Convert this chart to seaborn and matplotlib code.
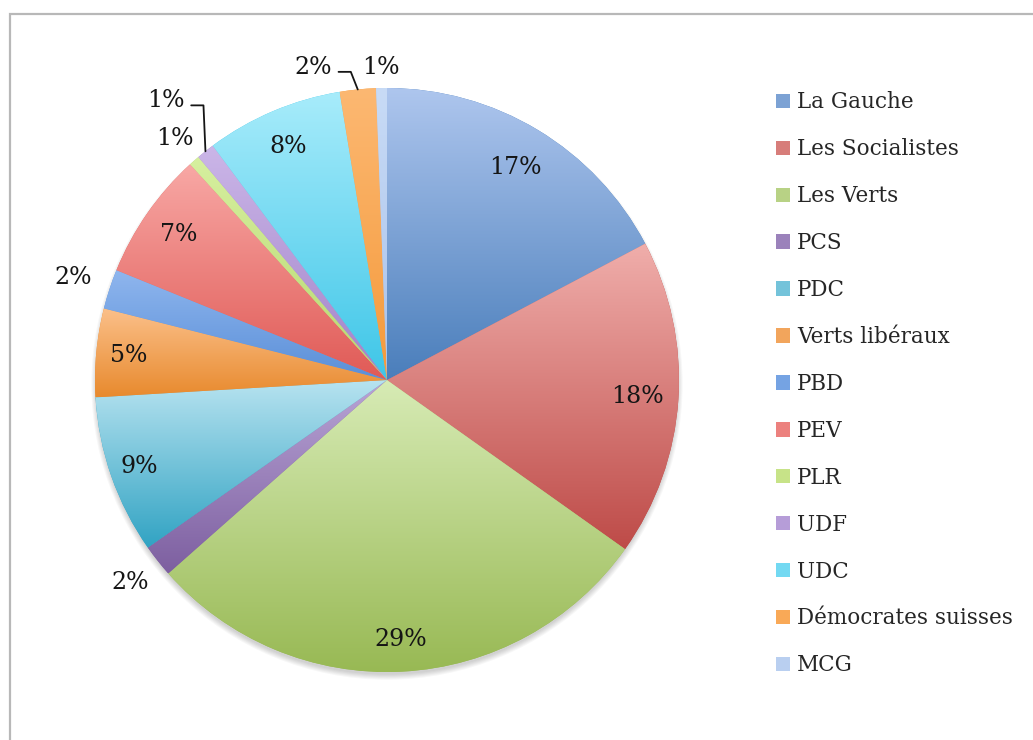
import numpy as np
import matplotlib
matplotlib.use("Agg")
import matplotlib.pyplot as plt
import seaborn as sns
from matplotlib.colors import LinearSegmentedColormap, to_rgb
from matplotlib.patches import Patch, Circle, Rectangle

sns.set_theme(style="white")
plt.rcParams["font.family"] = ["DejaVu Serif"]

# ---- data ----
parties = ["La Gauche", "Les Socialistes", "Les Verts", "PCS", "PDC", "Verts libéraux",
           "PBD", "PEV", "PLR", "UDF", "UDC", "Démocrates suisses", "MCG"]
shares = [17.3, 17.6, 28.7, 1.8, 8.8, 4.9, 2.2, 7.1, 0.6, 1.0, 7.6, 2.0, 0.6]
top_colors = ["#aec6ee", "#f0aeab", "#d7ebb5", "#b9a5d6", "#b7e3f0", "#fbc08a", "#8fb6ee",
              "#f8a8a5", "#d6ef9f", "#cbb6e8", "#a8ecfb", "#fcb872", "#c8dbf6"]
bottom_colors = ["#4a7ebb", "#be4b48", "#98b954", "#7d5fa0", "#31a3c3", "#e88a2e", "#5a8fd8",
                 "#e05a56", "#b8d870", "#a283c8", "#3ec6e8", "#f59a3b", "#a9c2ea"]

# label styling (radius factor, angle shift in degrees)
label_r = [0.85, 0.86, 0.89, 1.12, 0.90, 0.89, 1.13, 0.87, 1.10, 1.22, 0.87, 1.10, 1.07]
label_shift = [0, 0, 0, 0, 0, 0, 0, 0, 0, 0, 0, 7.6, 0]
leader = [False] * 9 + [True, False, True, False]

W, H = 1033, 740
R = 292.0
cx, cy = 387.0, 380.0

fig = plt.figure(figsize=(W / 100, H / 100), dpi=100)
fig.patch.set_facecolor("white")

# outer frame (partially visible)
fig.add_artist(Rectangle((10 / W, -0.1), 1.2, 1 - 14 / H + 0.1, transform=fig.transFigure,
                         fill=False, edgecolor="#b8b8b8", linewidth=1.6))

ax = fig.add_axes([(cx - 1.25 * R) / W, (H - cy - 1.2 * R) / H, 2.5 * R / W, 2.4 * R / H])
ax.set_facecolor("none")

# soft shadow
for i in range(6):
    ax.add_patch(Circle((0.0, -0.014), 0.995 + 0.0035 * i, facecolor="black",
                        alpha=0.03, linewidth=0, zorder=0))

wedges, _ = ax.pie(shares, colors=bottom_colors, startangle=90, counterclock=False,
                   radius=1, wedgeprops=dict(linewidth=0))

grad = np.linspace(0, 1, 256).reshape(-1, 1)
for w, c0, c1 in zip(wedges, top_colors, bottom_colors):
    ext = w.get_path().get_extents()
    cmap = LinearSegmentedColormap.from_list("g", [c1, c0])
    im = ax.imshow(grad, extent=[ext.x0, ext.x1, ext.y0, ext.y1], origin="lower",
                   cmap=cmap, aspect="auto", interpolation="bilinear", zorder=2)
    im.set_clip_path(w)

for w, v, rf, sh, ld in zip(wedges, shares, label_r, label_shift, leader):
    mid = np.deg2rad((w.theta1 + w.theta2) / 2)
    ang = mid + np.deg2rad(sh)
    tx, ty = rf * np.cos(ang), rf * np.sin(ang)
    ax.text(tx, ty, f"{round(v)}%", ha="center", va="center", fontsize=17,
            color="#151515", zorder=5)
    if ld:
        ex, ey = np.cos(mid), np.sin(mid)
        xs = [tx + 0.088, tx + 0.13, ex]
        ys = [ty - 0.015, ty - 0.015, ey]
        ax.plot(xs, ys, color="#151515", linewidth=1.3, zorder=5)

ax.set_xlim(-1.25, 1.25)
ax.set_ylim(-1.2, 1.2)
ax.set_aspect("auto")
ax.axis("off")

def mix(a, b):
    a, b = np.array(to_rgb(a)), np.array(to_rgb(b))
    return tuple(0.5 * a + 0.5 * b)

handles = [Patch(facecolor=mix(a, b), edgecolor="none") for a, b in zip(top_colors, bottom_colors)]
fig.legend(handles, parties, loc="upper left", bbox_to_anchor=(776 / W, 1 - 91.5 / H),
           frameon=False, fontsize=15.5, handlelength=0.66, handleheight=0.66,
           handletextpad=0.33, labelspacing=1.157, borderpad=0, borderaxespad=0)

fig.savefig("out.png", dpi=100, facecolor="white")
